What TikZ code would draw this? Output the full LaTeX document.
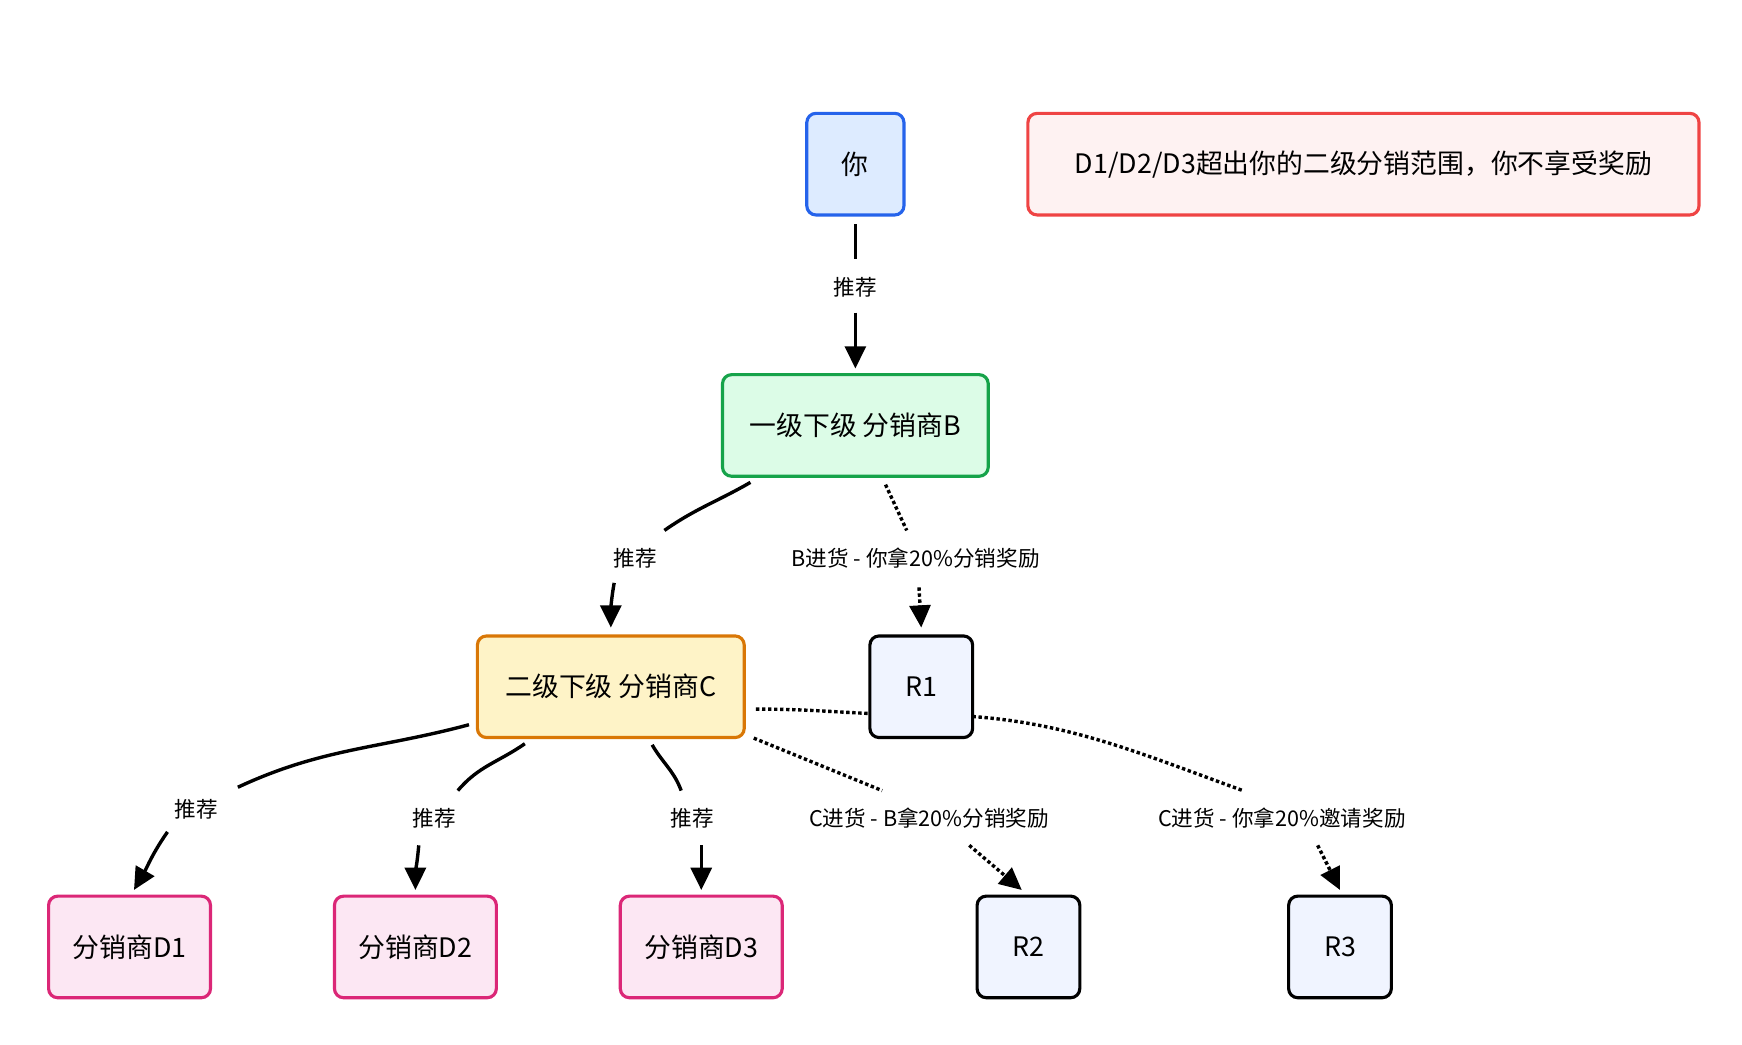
\documentclass[tikz,border=0pt]{standalone}
\usepackage{fontspec}
\setmainfont{Noto Sans CJK SC}
\usetikzlibrary{arrows.meta,calc}
\definecolor{youF}{HTML}{DDEBFF}\definecolor{youD}{HTML}{2563EB}
\definecolor{bF}{HTML}{DCFCE7}\definecolor{bD}{HTML}{16A34A}
\definecolor{cF}{HTML}{FEF3C7}\definecolor{cD}{HTML}{D97706}
\definecolor{dF}{HTML}{FCE7F3}\definecolor{dD}{HTML}{DB2777}
\definecolor{rF}{HTML}{F0F4FF}
\definecolor{nF}{HTML}{FEF2F2}\definecolor{nD}{HTML}{EF4444}
\pgfdeclarelayer{bg}\pgfsetlayers{bg,main}
\begin{document}
\begin{tikzpicture}[x=0.03cm,y=-0.03cm,
 box/.style={draw,line width=2.4pt,rounded corners=7pt,font=\fontsize{20.5}{22}\selectfont,inner sep=0pt},
 lbl/.style={font=\fontsize{16.5}{18}\selectfont,inner sep=3pt},
 e/.style={line width=2.6pt,-{Triangle[length=17pt,width=16pt]}},
 en/.style={line width=2.6pt},
 d/.style={e,dotted},
 dn/.style={en,dotted}]
\useasboundingbox (0,0) rectangle (1560,935);
\node[box,fill=youF,draw=youD,minimum width=87*0.03cm,minimum height=91*0.03cm] (you) at (766,147) {你};
\node[box,fill=nF,draw=nD,minimum width=601*0.03cm,minimum height=91*0.03cm] (note) at (1221,147) {D1/D2/D3超出你的二级分销范围，你不享受奖励};
\node[box,fill=bF,draw=bD,minimum width=238*0.03cm,minimum height=91*0.03cm] (B) at (766,381) {一级下级 分销商B};
\node[box,fill=cF,draw=cD,minimum width=239*0.03cm,minimum height=91*0.03cm] (C) at (547,615) {二级下级 分销商C};
\node[box,fill=rF,draw=black,minimum width=92*0.03cm,minimum height=91*0.03cm] (R1) at (825,615) {R1};
\foreach \n/\x/\t in {D1/116/分销商D1,D2/372/分销商D2,D3/628/分销商D3}
  \node[box,fill=dF,draw=dD,minimum width=145*0.03cm,minimum height=91*0.03cm] (\n) at (\x,848) {\t};
\node[box,fill=rF,draw=black,minimum width=92*0.03cm,minimum height=91*0.03cm] (R2) at (921,848) {R2};
\node[box,fill=rF,draw=black,minimum width=92*0.03cm,minimum height=91*0.03cm] (R3) at (1200,848) {R3};
% labels
\node[lbl] (l0) at (766,257) {推荐};
\node[lbl] (l1) at (569,500) {推荐};
\node[lbl] (l2) at (820,500) {B进货 - 你拿20\%分销奖励};
\node[lbl] (l3) at (176,725) {推荐};
\node[lbl] (l4) at (389,733) {推荐};
\node[lbl] (l5) at (620,733) {推荐};
\node[lbl] (l6) at (832,733) {C进货 - B拿20\%分销奖励};
\node[lbl] (l7) at (1148,733) {C进货 - 你拿20\%邀请奖励};
\coordinate (yS) at (766,201);
\coordinate (bS1) at (672,432);
\coordinate (bS2) at (793,434);
\coordinate (c1) at (420,649);
\coordinate (c2) at (470,666);
\coordinate (c3) at (584,667);
\coordinate (c4) at (675,661);
\coordinate (c5) at (677,635);
\begin{pgfonlayer}{bg}
\draw[en] (yS) -- (766,232);
\draw[e] (766,280) -- (766,330);
\draw[en] (bS1) to[out=210,in=35] (595,475);
\draw[e] (550,522) to[out=260,in=90] (547,562);
\draw[dn] (bS2) -- (812,475);
\draw[d] (823,526) -- (825,562);
\draw[en] (c1) to[out=195,in=25] (213,705);
\draw[e] (150,745) to[out=235,in=60] (120,797);
\draw[en] (c2) to[out=215,in=50] (410,708);
\draw[e] (375,757) to[out=265,in=90] (372,797);
\draw[en] (c3) to[out=300,in=110] (610,708);
\draw[e] (628,757) -- (628,797);
\draw[dn] (c4) -- (790,708);
\draw[d] (868,757) -- (915,797);
\draw[dn] (c5) to[out=0,in=180] (825,640) to[out=0,in=160] (1113,708);
\draw[d] (1180,757) -- (1200,797);
\end{pgfonlayer}
\end{tikzpicture}
\end{document}
